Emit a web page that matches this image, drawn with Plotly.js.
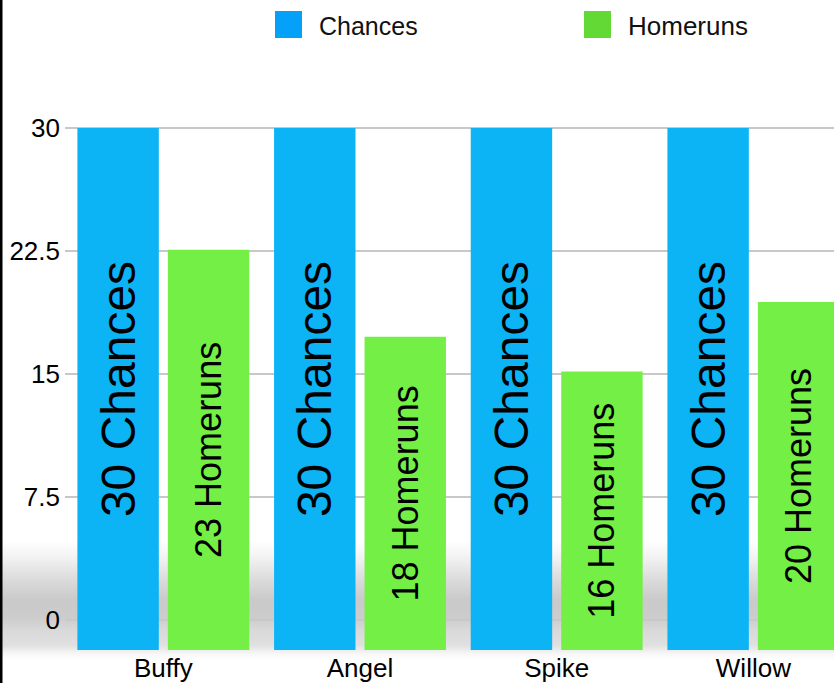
<!DOCTYPE html>
<html>
<head>
<meta charset="utf-8">
<script src="https://cdn.plot.ly/plotly-3.0.1.min.js"></script>
<style>
  html, body { margin: 0; padding: 0; background: #ffffff; }
  #chart { width: 834px; height: 683px; }
</style>
</head>
<body>
<div id="chart"></div>
<script>
// Players and their stats
const players = ["Buffy", "Angel", "Spike", "Willow"];
const seriesNames = ["Chances", "Homeruns"];
const chances = [30, 30, 30, 30];
const homeruns = [23, 18, 16, 20];
const yTickValues = [0, 7.5, 15, 22.5, 30];
const yTickLabels = ["0", "7.5", "15", "22.5", "30"];

const W = 834, H = 683;
const M = { l: 65, r: 0, t: 100, b: 33 };
const plotW = W - M.l - M.r, plotH = H - M.t - M.b;

// pixel -> paper helpers for the decorations
const px = x => (x - M.l) / plotW;
const py = y => (H - M.b - y) / plotH;

const blue = "#0cb4f6", green = "#74ef46";
const blueKey = "#05a0f8", greenKey = "#62d934";
const FONT = "Liberation Sans, Arial, sans-serif";

// bars stand on the front floor (y); the back wall carries the grid and ticks (y2)
const traces = [
  {
    type: "bar", name: seriesNames[0], x: players, y: chances,
    text: chances.map(v => v + " " + seriesNames[0]),
    textposition: "inside", insidetextanchor: "middle", textangle: -90,
    textfont: { family: FONT, size: 48, color: "#000" },
    marker: { color: blue }, showlegend: false
  },
  {
    type: "bar", name: seriesNames[1], x: players, y: homeruns,
    text: homeruns.map(v => v + " " + seriesNames[1]),
    textposition: "inside", insidetextanchor: "middle", textangle: -90,
    textfont: { family: FONT, size: 36, color: "#000" },
    marker: { color: green }, showlegend: false
  },
  // empty trace that registers the back-wall axis so its grid is drawn
  { type: "scatter", x: [], y: [], yaxis: "y2", mode: "none",
    showlegend: false, hoverinfo: "skip" }
];

// soft floor shadow under the bars (vertical SVG gradient)
const shadowTop = 540, shadowBottom = 660;
const shadowSvg =
  '<svg xmlns="http://www.w3.org/2000/svg" width="10" height="100" preserveAspectRatio="none">' +
  '<defs><linearGradient id="g" x1="0" y1="0" x2="0" y2="1">' +
  '<stop offset="0" stop-color="#000" stop-opacity="0"/>' +
  '<stop offset="0.12" stop-color="#000" stop-opacity="0.04"/>' +
  '<stop offset="0.35" stop-color="#000" stop-opacity="0.15"/>' +
  '<stop offset="0.5" stop-color="#000" stop-opacity="0.21"/>' +
  '<stop offset="0.65" stop-color="#000" stop-opacity="0.2"/>' +
  '<stop offset="0.75" stop-color="#000" stop-opacity="0.15"/>' +
  '<stop offset="0.88" stop-color="#000" stop-opacity="0.12"/>' +
  '<stop offset="0.95" stop-color="#000" stop-opacity="0.03"/>' +
  '<stop offset="1" stop-color="#000" stop-opacity="0"/>' +
  '</linearGradient></defs>' +
  '<rect width="10" height="100" fill="url(#g)"/></svg>';

const images = [{
  source: "data:image/svg+xml;charset=utf-8," + encodeURIComponent(shadowSvg),
  xref: "paper", yref: "paper",
  x: px(0), y: py(shadowTop),
  sizex: W / plotW, sizey: (shadowBottom - shadowTop) / plotH,
  xanchor: "left", yanchor: "top", sizing: "stretch", layer: "below"
}];

const shapes = [];
// left frame line
shapes.push({
  type: "line", xref: "paper", yref: "paper",
  x0: px(1), x1: px(1), y0: py(H), y1: py(0),
  line: { color: "#000", width: 3 }
});
// legend keys
const keys = [[275, blueKey], [584, greenKey]];
keys.forEach(([x, c]) => {
  shapes.push({
    type: "rect", xref: "paper", yref: "paper",
    x0: px(x), x1: px(x + 27), y0: py(38), y1: py(11),
    fillcolor: c, line: { width: 0 }
  });
});
const annotations = [
  { text: seriesNames[0], x: px(317), y: py(26), xref: "paper", yref: "paper",
    xanchor: "left", yanchor: "middle", showarrow: false,
    font: { family: FONT, size: 25, color: "#111" } },
  { text: seriesNames[1], x: px(626), y: py(26), xref: "paper", yref: "paper",
    xanchor: "left", yanchor: "middle", showarrow: false,
    font: { family: FONT, size: 26, color: "#111" } }
];

const layout = {
  width: W, height: H,
  margin: M,
  paper_bgcolor: "#ffffff", plot_bgcolor: "rgba(0,0,0,0)",
  barmode: "group", bargap: 0.08, bargroupgap: 0.1,
  showlegend: false,
  font: { family: FONT, color: "#000" },
  xaxis: {
    type: "category", range: [-0.5, 3.41], fixedrange: true,
    showgrid: false, zeroline: false, showline: false, ticks: "",
    tickfont: { size: 26, color: "#000" }
  },
  // front floor: bar heights
  yaxis: {
    range: [0, 31.609], fixedrange: true,
    showgrid: false, zeroline: false, showline: false,
    showticklabels: false, ticks: ""
  },
  // back wall: grid and tick labels
  yaxis2: {
    overlaying: "y", anchor: "x", side: "left", type: "linear",
    range: [-1.829, 31.707], fixedrange: true,
    tickmode: "array", tickvals: yTickValues, ticktext: yTickLabels,
    showgrid: true, gridcolor: "#c8c8c8", gridwidth: 2,
    zeroline: false, showline: false, ticks: "",
    tickfont: { size: 26, color: "#000" }, ticklabelstandoff: 4
  },
  images: images,
  shapes: shapes,
  annotations: annotations
};

Plotly.newPlot("chart", traces, layout, { displayModeBar: false, staticPlot: true });
</script>
</body>
</html>
